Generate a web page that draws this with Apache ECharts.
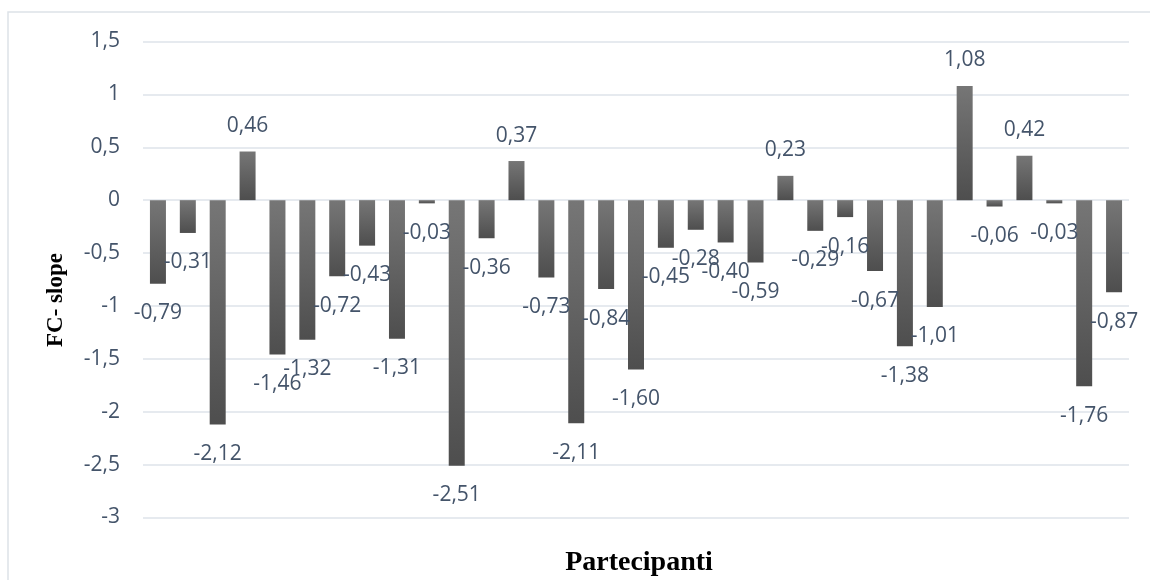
<!DOCTYPE html>
<html>
<head>
<meta charset="utf-8">
<script src="https://cdn.jsdelivr.net/npm/echarts@6/dist/echarts.min.js"></script>
<style>
  html, body { margin: 0; padding: 0; background: #ffffff; }
  #chart { width: 1150px; height: 580px; }
</style>
</head>
<body>
<div id="chart"></div>
<script>
// FC slope per participant
const participants = Array.from({ length: 33 }, (_, i) => 'P' + (i + 1));
const fcSlope = [
  -0.79, -0.31, -2.12, 0.46, -1.46, -1.32, -0.72, -0.43, -1.31, -0.03,
  -2.51, -0.36, 0.37, -0.73, -2.11, -0.84, -1.60, -0.45, -0.28, -0.40,
  -0.59, 0.23, -0.29, -0.16, -0.67, -1.38, -1.01, 1.08, -0.06, 0.42,
  -0.03, -1.76, -0.87
];
const yTicks = { min: -3, max: 1.5, step: 0.5 };

const labelColor = '#44546A';
const fmtComma = (v, digits) => {
  const s = digits == null ? String(v) : v.toFixed(digits);
  return s.replace('.', ',');
};

const barGradient = new echarts.graphic.LinearGradient(0, 0, 0, 1, [
  { offset: 0, color: '#767676' },
  { offset: 1, color: '#4e4e4e' }
]);

// value labels sit above positive bars and below negative ones
const seriesData = fcSlope.map(v => ({
  value: v,
  label: {
    position: v >= 0 ? 'top' : 'bottom',
    distance: v >= 0 ? 15 : 19
  }
}));

const chart = echarts.init(document.getElementById('chart'), null, { renderer: 'canvas' });
chart.setOption({
  animation: false,
  backgroundColor: '#ffffff',
  grid: { left: 143, right: 21, top: 41.5, bottom: 62.5 },
  xAxis: {
    type: 'category',
    data: participants,
    axisLine: { show: false },
    axisTick: { show: false },
    axisLabel: { show: false }
  },
  yAxis: {
    type: 'value',
    min: yTicks.min,
    max: yTicks.max,
    interval: yTicks.step,
    axisLine: { show: false },
    axisTick: { show: false },
    splitLine: { lineStyle: { color: '#DEE3EA', width: 1.5 } },
    axisLabel: {
      color: labelColor,
      fontFamily: 'Open Sans',
      fontSize: 21,
      margin: 23,
      formatter: v => fmtComma(v)
    }
  },
  series: [{
    type: 'bar',
    data: seriesData,
    barWidth: 16,
    itemStyle: { color: barGradient },
    label: {
      show: true,
      color: labelColor,
      fontFamily: 'Open Sans',
      fontSize: 21,
      formatter: p => fmtComma(p.value, 2)
    }
  }],
  graphic: [
    {
      type: 'rect',
      shape: { x: 8, y: 12, width: 1160, height: 600 },
      style: { fill: 'none', stroke: '#DDE2E8', lineWidth: 1.5 },
      silent: true
    },
    {
      type: 'text',
      x: 56, y: 300,
      rotation: Math.PI / 2,
      style: {
        text: 'FC- slope',
        font: 'bold 23px "Liberation Serif", "Times New Roman", serif',
        fill: '#000000',
        align: 'center',
        verticalAlign: 'middle'
      }
    },
    {
      type: 'text',
      x: 639, y: 563,
      style: {
        text: 'Partecipanti',
        font: 'bold 28px "Liberation Serif", "Times New Roman", serif',
        fill: '#000000',
        align: 'center',
        verticalAlign: 'middle'
      }
    }
  ]
});
</script>
</body>
</html>
